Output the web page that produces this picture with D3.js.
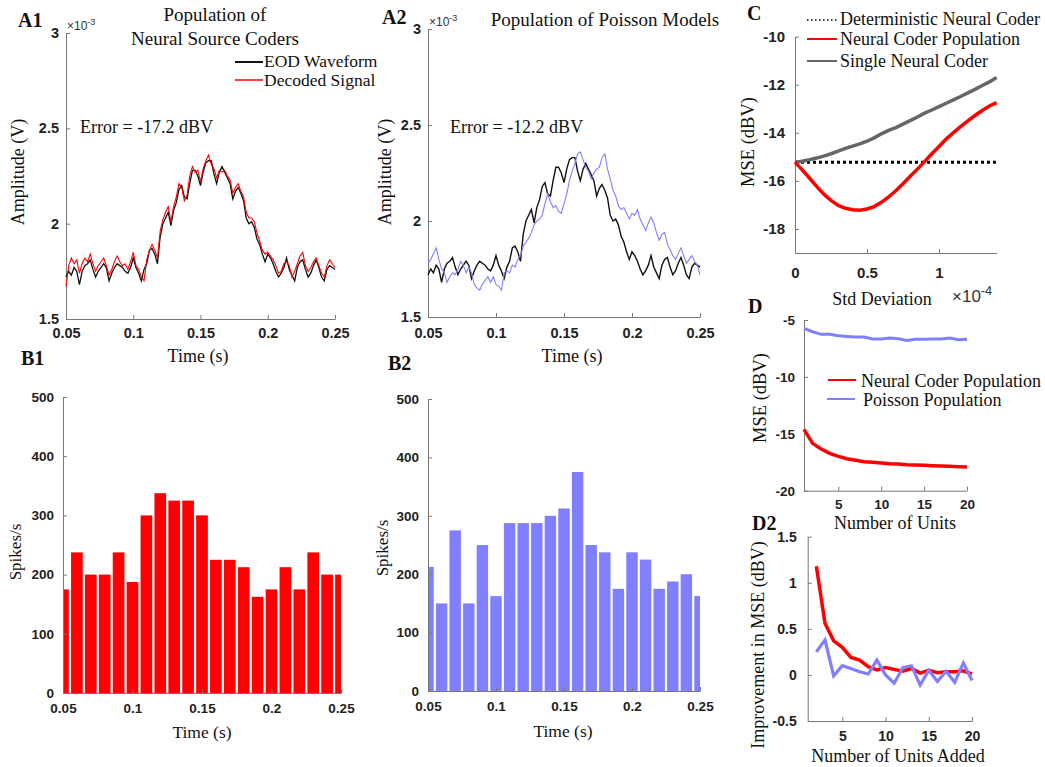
<!DOCTYPE html>
<html>
<head>
<meta charset="utf-8">
<script src="https://cdn.jsdelivr.net/npm/d3@7"></script>
<style>
  body { margin: 0; background: #fff; }
  .serif { font-family: "Liberation Serif", "Times New Roman", serif; fill: #111; }
  .letter { font-family: "Liberation Serif", serif; font-weight: bold; font-size: 20px; fill: #111; }
</style>
</head>
<body>
<script>
// ---- data ----
// waveforms sampled every 2 ms from 0.05 s to 0.25 s (amplitude in units of 1e-3 V)
var t0 = 0.05, dt = 0.002;
var eodWave = [1.72,1.75,1.73,1.77,1.75,1.68,1.75,1.78,1.79,1.81,
  1.76,1.72,1.75,1.77,1.79,1.77,1.70,1.74,1.77,1.79,
  1.78,1.77,1.75,1.74,1.77,1.82,1.77,1.74,1.70,1.76,
  1.79,1.86,1.87,1.84,1.79,1.93,2.00,2.03,2.06,1.99,
  2.07,2.11,2.18,2.20,2.14,2.13,2.21,2.28,2.28,2.25,
  2.20,2.27,2.32,2.33,2.33,2.26,2.21,2.27,2.30,2.27,
  2.24,2.21,2.13,2.17,2.19,2.16,2.12,2.03,2.00,2.01,
  1.98,1.92,1.89,1.84,1.80,1.84,1.82,1.79,1.75,1.72,
  1.74,1.77,1.82,1.76,1.73,1.70,1.77,1.80,1.81,1.76,
  1.72,1.74,1.78,1.81,1.77,1.72,1.70,1.76,1.78,1.77,1.76];
var decodedWave = [1.67,1.78,1.82,1.79,1.81,1.74,1.79,1.82,1.80,1.84,
  1.79,1.75,1.78,1.80,1.82,1.78,1.73,1.76,1.80,1.83,
  1.80,1.78,1.79,1.76,1.80,1.85,1.78,1.76,1.72,1.70,
  1.81,1.86,1.89,1.86,1.82,1.96,2.02,2.06,2.09,2.01,
  2.09,2.14,2.21,2.19,2.12,2.15,2.25,2.30,2.27,2.28,
  2.22,2.29,2.33,2.36,2.31,2.29,2.24,2.28,2.27,2.28,
  2.25,2.23,2.16,2.19,2.21,2.17,2.14,2.06,2.03,2.03,
  2.01,1.95,1.91,1.86,1.84,1.85,1.83,1.81,1.78,1.74,
  1.75,1.79,1.80,1.78,1.72,1.75,1.79,1.83,1.85,1.78,
  1.75,1.77,1.80,1.82,1.78,1.74,1.72,1.78,1.81,1.79,1.77];
var poissonWave = [1.78,1.80,1.83,1.86,1.80,1.75,1.73,1.68,1.71,1.73,
  1.72,1.75,1.79,1.77,1.73,1.76,1.73,1.67,1.65,1.64,
  1.67,1.69,1.71,1.68,1.71,1.67,1.66,1.64,1.73,1.74,
  1.73,1.77,1.76,1.80,1.82,1.87,1.89,1.91,1.94,1.98,
  2.00,2.01,2.03,2.09,2.14,2.10,2.07,2.08,2.05,2.04,
  2.09,2.14,2.21,2.26,2.30,2.35,2.36,2.32,2.28,2.26,
  2.22,2.25,2.27,2.28,2.33,2.35,2.27,2.22,2.16,2.13,
  2.08,2.06,2.07,2.04,2.01,2.04,2.03,2.06,2.01,1.98,
  1.95,1.99,2.02,1.99,1.94,1.90,1.93,1.94,1.88,1.85,
  1.82,1.80,1.83,1.86,1.82,1.78,1.80,1.82,1.79,1.77,1.72];

// PSTH bins (s) and rates (spikes/s)
var binCenters = [0.05,0.06,0.07,0.08,0.09,0.10,0.11,0.12,0.13,0.14,0.15,
  0.16,0.17,0.18,0.19,0.20,0.21,0.22,0.23,0.24,0.25];
var coderRates = [175,237.5,200,200,237.5,187.5,300,337.5,325,325,300,
  225,225,212.5,162.5,175,212.5,175,237.5,200,200];
var poissonRates = [212.5,150,275,150,250,162.5,287.5,287.5,287.5,300,312.5,
  375,250,237.5,175,237.5,225,175,187.5,200,162.5];

// panel C: MSE vs noise std (x 1e-4)
var stdDev = [0,0.05,0.1,0.15,0.2,0.25,0.3,0.35,0.4,0.45,0.5,0.55,0.6,0.65,0.7,
  0.75,0.8,0.85,0.9,0.95,1.0,1.05,1.1,1.15,1.2,1.25,1.3,1.35,1.4];
var popMSE = [-15.22,-15.54,-15.88,-16.23,-16.55,-16.81,-17.02,-17.14,-17.2,-17.22,
  -17.17,-17.07,-16.89,-16.67,-16.41,-16.12,-15.81,-15.51,-15.2,-14.87,
  -14.57,-14.26,-13.99,-13.74,-13.5,-13.28,-13.07,-12.88,-12.74];
var singleMSE = [-15.22,-15.18,-15.12,-15.05,-14.97,-14.87,-14.76,-14.65,-14.55,-14.46,
  -14.35,-14.21,-14.04,-13.9,-13.78,-13.64,-13.49,-13.34,-13.18,-13.05,
  -12.91,-12.77,-12.63,-12.49,-12.34,-12.19,-12.03,-11.88,-11.7];
var deterministicMSE = -15.22;

// panel D: MSE vs number of units
var units = [1,2,3,4,5,6,7,8,9,10,11,12,13,14,15,16,17,18,19,20];
var coderPopMSE = [-14.61,-15.84,-16.34,-16.72,-16.98,-17.19,-17.33,-17.45,-17.51,-17.57,
  -17.63,-17.66,-17.72,-17.75,-17.77,-17.8,-17.83,-17.86,-17.89,-17.92];
var poissonPopMSE = [-5.73,-6.03,-6.26,-6.26,-6.38,-6.44,-6.49,-6.49,-6.67,-6.67,
  -6.58,-6.64,-6.79,-6.7,-6.7,-6.67,-6.67,-6.58,-6.73,-6.7];

// panel D2: improvement per added unit
var unitsAdded = [2,3,4,5,6,7,8,9,10,11,12,13,14,15,16,17,18,19,20];
var coderGain = [1.18,0.56,0.37,0.30,0.19,0.16,0.09,0.055,0.08,0.06,
  0.04,0.07,0.02,0.05,0.025,0.035,0.035,0.045,0.01];
var poissonGain = [0.25,0.38,-0.01,0.10,0.07,0.035,0.01,0.16,0.0,-0.09,
  0.08,0.10,-0.11,0.05,-0.07,0.04,-0.08,0.13,-0.06];

var timeTicks = [0.05,0.1,0.15,0.2,0.25];

var RED = "#ff0000", BLUE = "#8080ff", GRAY = "#666666";

var svg = d3.select("body").append("svg")
  .attr("width", 1045).attr("height", 767)
  .style("background", "#fff");

// matlab-like axes: left + bottom, inward ticks, bold sans labels
function drawAxes(x, y, xt, yt, opt) {
  var g = svg.append("g");
  var xa = g.append("g")
    .attr("transform", "translate(0," + y.range()[0] + ")")
    .call(d3.axisBottom(x).tickValues(xt).tickSize(-4).tickSizeOuter(0)
      .tickPadding(opt.xpad).tickFormat(function(d) { return String(d); }));
  var ya = g.append("g")
    .attr("transform", "translate(" + x.range()[0] + ",0)")
    .call(d3.axisLeft(y).tickValues(yt).tickSize(-4).tickSizeOuter(0)
      .tickPadding(opt.ypad).tickFormat(function(d) { return String(d); }));
  [xa, ya].forEach(function(a) {
    a.attr("color", "#777")
      .attr("font-family", "'Liberation Sans', Arial, sans-serif")
      .attr("font-size", opt.fs)
      .attr("font-weight", "bold");
    a.selectAll("text").attr("fill", "#222");
  });
  return g;
}

function label(x, y, txt, size, anchor, rotate) {
  var t = svg.append("text").attr("class", "serif")
    .attr("font-size", size)
    .attr("text-anchor", anchor || "middle")
    .text(txt);
  if (rotate) t.attr("transform", "translate(" + x + "," + y + ") rotate(-90)");
  else t.attr("x", x).attr("y", y);
  return t;
}

function letter(x, y, txt) {
  svg.append("text").attr("class", "letter").attr("x", x).attr("y", y).text(txt);
}

function expLabel(x, y, base, sup, fs) {
  var t = svg.append("text").attr("x", x).attr("y", y)
    .attr("font-family", "'Liberation Sans', Arial, sans-serif")
    .attr("font-size", fs).attr("fill", "#333");
  t.append("tspan").text(base);
  t.append("tspan").attr("font-size", fs * 0.75).attr("dy", -fs * 0.4).text(sup);
}

function waveLine(x, y, vals) {
  return d3.line()
    .x(function(d, i) { return x(t0 + i * dt); })
    .y(function(d) { return y(d); })(vals);
}

// ---------- A1 ----------
var xA1 = d3.scaleLinear().domain([0.05, 0.25]).range([66, 335]);
var yA1 = d3.scaleLinear().domain([1.5, 3]).range([319, 33]);
drawAxes(xA1, yA1, timeTicks, [1.5, 2, 2.5, 3], {fs: 14.5, xpad: 9, ypad: 7});
svg.append("path").attr("d", waveLine(xA1, yA1, eodWave))
  .attr("fill", "none").attr("stroke", "#111").attr("stroke-width", 1.3);
svg.append("path").attr("d", waveLine(xA1, yA1, decodedWave))
  .attr("fill", "none").attr("stroke", RED).attr("stroke-width", 1.1);
letter(18, 27, "A1");
label(215, 21, "Population of", 19);
label(215, 45, "Neural Source Coders", 19);
expLabel(67, 30, "\u00d710", "-3", 12);
svg.append("line").attr("x1", 235).attr("x2", 263).attr("y1", 62).attr("y2", 62)
  .attr("stroke", "#111").attr("stroke-width", 2);
svg.append("line").attr("x1", 235).attr("x2", 263).attr("y1", 80).attr("y2", 80)
  .attr("stroke", RED).attr("stroke-width", 1.5);
label(264, 67, "EOD Waveform", 17.5, "start");
label(264, 86, "Decoded Signal", 17.5, "start");
label(80, 133, "Error = -17.2 dBV", 18, "start");
label(24, 172, "Amplitude (V)", 18, "middle", true);
label(198, 362, "Time (s)", 18);

// ---------- A2 ----------
var xA2 = d3.scaleLinear().domain([0.05, 0.25]).range([428, 700]);
var yA2 = d3.scaleLinear().domain([1.5, 3]).range([317, 29]);
drawAxes(xA2, yA2, timeTicks, [1.5, 2, 2.5, 3], {fs: 14.5, xpad: 11, ypad: 7});
svg.append("path").attr("d", waveLine(xA2, yA2, eodWave))
  .attr("fill", "none").attr("stroke", "#111").attr("stroke-width", 1.4);
svg.append("path").attr("d", waveLine(xA2, yA2, poissonWave))
  .attr("fill", "none").attr("stroke", BLUE).attr("stroke-width", 1.1);
letter(382, 24, "A2");
label(605, 26, "Population of Poisson Models", 19);
expLabel(429, 26, "\u00d710", "-3", 12);
label(450, 133, "Error = -12.2 dBV", 18, "start");
label(391, 172, "Amplitude (V)", 18, "middle", true);
label(572, 362, "Time (s)", 18);

// ---------- B1 / B2 ----------
function histPanel(id, x, y, rates, color) {
  svg.append("clipPath").attr("id", id).append("rect")
    .attr("x", x.range()[0]).attr("y", y.range()[1])
    .attr("width", x.range()[1] - x.range()[0])
    .attr("height", y.range()[0] - y.range()[1]);
  var bw = 0.0084;
  svg.append("g").attr("clip-path", "url(#" + id + ")")
    .selectAll("rect").data(rates).enter().append("rect")
    .attr("x", function(d, i) { return x(binCenters[i] - bw / 2); })
    .attr("width", x(t0 + bw) - x(t0))
    .attr("y", function(d) { return y(d); })
    .attr("height", function(d) { return y(0) - y(d); })
    .attr("fill", color);
  drawAxes(x, y, timeTicks, [0, 100, 200, 300, 400, 500], {fs: 13.5, xpad: 10, ypad: 9});
}
var xB1 = d3.scaleLinear().domain([0.05, 0.25]).range([63, 341]);
var yB1 = d3.scaleLinear().domain([0, 500]).range([693, 397]);
histPanel("clipB1", xB1, yB1, coderRates, RED);
letter(21, 365, "B1");
label(21, 552, "Spikes/s", 17, "middle", true);
label(202, 738, "Time (s)", 17.5);

var xB2 = d3.scaleLinear().domain([0.05, 0.25]).range([428, 700]);
var yB2 = d3.scaleLinear().domain([0, 500]).range([691, 399]);
histPanel("clipB2", xB2, yB2, poissonRates, BLUE);
letter(388, 370, "B2");
label(388, 548, "Spikes/s", 17, "middle", true);
label(563, 737, "Time (s)", 17.5);

// ---------- C ----------
var xC = d3.scaleLinear().domain([0, 1.4]).range([795, 996.6]);
var yC = d3.scaleLinear().domain([-19, -10]).range([253, 36.7]);
drawAxes(xC, yC, [0, 0.5, 1], [-18, -16, -14, -12, -10], {fs: 15, xpad: 14, ypad: 10});
var lineC = function(vals) {
  return d3.line().x(function(d, i) { return xC(stdDev[i]); }).y(function(d) { return yC(d); })(vals);
};
svg.append("path").attr("d", lineC(stdDev.map(function() { return deterministicMSE; })))
  .attr("fill", "none").attr("stroke", "#000").attr("stroke-width", 3)
  .attr("stroke-dasharray", "3,3");
svg.append("path").attr("d", lineC(singleMSE))
  .attr("fill", "none").attr("stroke", GRAY).attr("stroke-width", 3.5);
svg.append("path").attr("d", lineC(popMSE))
  .attr("fill", "none").attr("stroke", RED).attr("stroke-width", 3.5);
letter(747, 20, "C");
svg.append("line").attr("x1", 807).attr("x2", 837).attr("y1", 20).attr("y2", 20)
  .attr("stroke", "#000").attr("stroke-width", 1.5).attr("stroke-dasharray", "1.5,2.5");
svg.append("line").attr("x1", 807).attr("x2", 837).attr("y1", 39).attr("y2", 39)
  .attr("stroke", RED).attr("stroke-width", 2);
svg.append("line").attr("x1", 807).attr("x2", 837).attr("y1", 61).attr("y2", 61)
  .attr("stroke", GRAY).attr("stroke-width", 2);
label(840, 25, "Deterministic Neural Coder", 18, "start");
label(840, 45, "Neural Coder Population", 18, "start");
label(840, 67, "Single Neural Coder", 18, "start");
label(754, 142, "MSE (dBV)", 18.5, "middle", true);
label(882, 305, "Std Deviation", 18);
expLabel(952, 302, "\u00d710", "-4", 17);

// ---------- D ----------
var xD = d3.scaleLinear().domain([1, 20]).range([804, 967]);
var yD = d3.scaleLinear().domain([-20, -5]).range([490.7, 320]);
drawAxes(xD, yD, [5, 10, 15, 20], [-20, -15, -10, -5], {fs: 13.5, xpad: 9, ypad: 9});
var lineD = function(vals) {
  return d3.line().x(function(d, i) { return xD(units[i]); }).y(function(d) { return yD(d); })(vals);
};
svg.append("path").attr("d", lineD(poissonPopMSE))
  .attr("fill", "none").attr("stroke", BLUE).attr("stroke-width", 3);
svg.append("path").attr("d", lineD(coderPopMSE))
  .attr("fill", "none").attr("stroke", RED).attr("stroke-width", 3.5);
letter(748, 313, "D");
svg.append("line").attr("x1", 828).attr("x2", 856).attr("y1", 380).attr("y2", 380)
  .attr("stroke", RED).attr("stroke-width", 2);
svg.append("line").attr("x1", 827).attr("x2", 855).attr("y1", 399).attr("y2", 399)
  .attr("stroke", BLUE).attr("stroke-width", 2);
label(861, 387, "Neural Coder Population", 18, "start");
label(863, 406, "Poisson Population", 18, "start");
label(766, 398, "MSE (dBV)", 18.5, "middle", true);
label(895, 529, "Number of Units", 18);

// ---------- D2 ----------
var xD2 = d3.scaleLinear().domain([1, 20]).range([807.7, 972]);
var yD2 = d3.scaleLinear().domain([-0.5, 1.5]).range([721, 536.7]);
drawAxes(xD2, yD2, [5, 10, 15, 20], [-0.5, 0, 0.5, 1, 1.5], {fs: 14, xpad: 10, ypad: 11});
var lineD2 = function(vals) {
  return d3.line().x(function(d, i) { return xD2(unitsAdded[i]); }).y(function(d) { return yD2(d); })(vals);
};
svg.append("path").attr("d", lineD2(coderGain))
  .attr("fill", "none").attr("stroke", RED).attr("stroke-width", 3.5);
svg.append("path").attr("d", lineD2(poissonGain))
  .attr("fill", "none").attr("stroke", BLUE).attr("stroke-width", 3.2);
letter(752, 530, "D2");
label(764, 645, "Improvement in MSE (dBV)", 18, "middle", true);
label(898, 762, "Number of Units Added", 18);
</script>
</body>
</html>
